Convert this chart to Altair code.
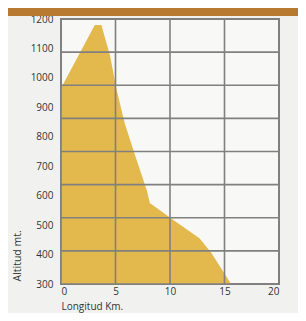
import altair as alt
import pandas as pd

# Elevation profile
km = [0, 3.1, 3.7, 4.5, 5.1, 5.85, 6.9, 7.9, 8.15, 10.4, 12.7, 13.8, 15.6]
altitude = [965, 1180, 1180, 1075, 960, 845, 725, 615, 575, 515, 455, 405, 300]

x_ticks = [0, 5, 10, 15, 20]
y_ticks = [300, 400, 500, 600, 700, 800, 900, 1000, 1100, 1200]
# the printed grid has 8 rows, not aligned with the labels
grid_rows = [300, 412.5, 525, 637.5, 750, 862.5, 975, 1087.5, 1200]
grid_cols = [0, 5, 10, 15, 20]

FONT = "Open Sans"
GRID = "#808080"

profile = pd.DataFrame({"km": km, "alt": altitude})
rows_df = pd.DataFrame({"alt": grid_rows})
cols_df = pd.DataFrame({"km": grid_cols})

xscale = alt.Scale(domain=[0, 20], nice=False)
yscale = alt.Scale(domain=[300, 1200], nice=False, zero=False)

xaxis = alt.Axis(values=x_ticks, grid=False, ticks=False, domain=False,
                 labelPadding=2, labelFontSize=10, labelColor="#333333",
                 labelFont=FONT, labelOverlap=False, format="d",
                 title="Longitud Km.", titleFont=FONT,
                 titleFontSize=10, titleFontWeight="normal",
                 titleColor="#333333", titleAnchor="start",
                 titleAlign="left", titleY=22, titleBaseline="middle")
yaxis = alt.Axis(values=y_ticks, grid=False, ticks=False, domain=False,
                 labelPadding=8, labelFontSize=10, labelColor="#333333",
                 labelFont=FONT, labelOverlap=False, format="d",
                 title="Altitud mt.", titleFont=FONT,
                 titleFontSize=10.5, titleFontWeight="normal",
                 titleColor="#333333", titleAngle=-90,
                 titleAlign="left", titleBaseline="middle",
                 titleX=-44, titleY=262)

area = alt.Chart(profile).mark_area(color="#E3B84C", clip=True).encode(
    x=alt.X("km:Q", scale=xscale, axis=xaxis),
    y=alt.Y("alt:Q", scale=yscale, stack=None, axis=yaxis),
    y2=alt.datum(300),
)

hrules = alt.Chart(rows_df).mark_rule(color=GRID, strokeWidth=1.6).encode(
    y=alt.Y("alt:Q", scale=yscale, axis=yaxis)
)
vrules = alt.Chart(cols_df).mark_rule(color=GRID, strokeWidth=1.6).encode(
    x=alt.X("km:Q", scale=xscale, axis=xaxis)
)

band = alt.Chart(pd.DataFrame({"a": [0]})).mark_rect(
    color="#B87A30", clip=False
).encode(
    x=alt.value(-53), x2=alt.value(237), y=alt.value(-11), y2=alt.value(-3)
)

chart = alt.layer(area, hrules, vrules, band).properties(
    width=218, height=265,
    autosize=alt.AutoSizeParams(type="none"),
    padding={"left": 53, "top": 11, "right": 19, "bottom": 29},
    background="#F1F2F0",
).configure_view(
    fill="#F8F8F7", stroke=GRID, strokeWidth=2
)

chart.save("out.html", embed_options={"renderer": "svg", "actions": False})
